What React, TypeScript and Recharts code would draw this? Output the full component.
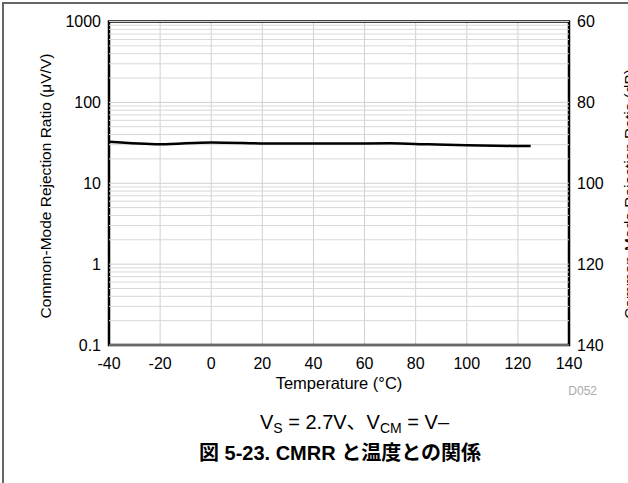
import {
  CartesianGrid,
  Line,
  LineChart,
  ReferenceArea,
  ReferenceLine,
  XAxis,
  YAxis,
} from "recharts";

const temps = [-40, -20, 0, 25, 50, 70, 85, 100, 125];
const cmrr = [32.5, 30.3, 32, 31, 31, 31.2, 30.3, 29.5, 28.8];

const xTicks = [-40, -20, 0, 20, 40, 60, 80, 100, 120, 140];
const yTicks = [0.1, 1, 10, 100, 1000];
const dbTicks = [60, 80, 100, 120, 140];
const decades = [0.1, 1, 10, 100];
const minorSteps = [2, 3, 4, 5, 6, 7, 8, 9];

// dB axis mirrors the µV/V axis: 1000 µV/V = 60 dB
const data = temps.map((t, i) => ({
  t,
  v: cmrr[i],
  db: 120 - 20 * Math.log10(cmrr[i]),
}));
const minorLines = decades.flatMap((d) => minorSteps.map((m) => d * m));

const FONT = '"Liberation Sans", Arial, "Noto Sans CJK JP", sans-serif';
const tickStyle = { fontSize: 16, fill: "#000", fontFamily: FONT };

export default function App() {
  return (
    <div
      style={{
        position: "absolute",
        left: 0,
        top: 0,
        width: 628,
        height: 483,
        background: "#fff",
        fontFamily: FONT,
        overflow: "hidden",
      }}
    >
      <div style={{ position: "absolute", left: 2, top: 2, width: 626, height: 2, background: "#666" }} />
      <div style={{ position: "absolute", left: 2, top: 2, width: 2, height: 481, background: "#666" }} />
      <div style={{ position: "absolute", left: 0, top: 0 }}>
        <LineChart
          width={628}
          height={400}
          data={data}
          margin={{ top: 21.5, right: 9, left: 49, bottom: 0 }}
        >
          <CartesianGrid
            yAxisId="left"
            vertical
            horizontal={false}
            stroke="#d0d0d0"
            strokeWidth={1}
          />
          {minorLines.map((v) => (
            <ReferenceLine
              key={v}
              y={v}
              yAxisId="left"
              stroke="#d8d8d8"
              strokeWidth={1}
            />
          ))}
          {yTicks.map((v) => (
            <ReferenceLine
              key={"d" + v}
              y={v}
              yAxisId="left"
              stroke="#d0d0d0"
              strokeWidth={1}
            />
          ))}
          <XAxis
            dataKey="t"
            type="number"
            domain={[-40, 140]}
            ticks={xTicks}
            height={55}
            tickLine={false}
            axisLine={false}
            tickMargin={7}
            tick={tickStyle}
            interval={0}
          />
          <YAxis
            yAxisId="left"
            scale="log"
            type="number"
            domain={[0.1, 1000]}
            ticks={yTicks}
            allowDataOverflow
            width={60}
            tickLine={false}
            axisLine={false}
            tick={tickStyle}
            tickMargin={2}
            interval={0}
            tickFormatter={(v) => String(v)}
          />
          <YAxis
            yAxisId="right"
            orientation="right"
            type="number"
            domain={[60, 140]}
            allowDataOverflow
            reversed
            ticks={dbTicks}
            width={50}
            tickLine={false}
            axisLine={false}
            tick={tickStyle}
            tickMargin={2}
            interval={0}
          />
          <Line
            yAxisId="right"
            dataKey="db"
            stroke="none"
            strokeWidth={0}
            dot={false}
            activeDot={false}
            isAnimationActive={false}
          />
          <Line
            yAxisId="left"
            dataKey="v"
            type="monotone"
            stroke="#000"
            strokeWidth={2.5}
            dot={false}
            isAnimationActive={false}
          />
          <ReferenceArea
            yAxisId="left"
            x1={-40}
            x2={140}
            y1={0.1}
            y2={1000}
            fill="none"
            stroke="#000"
            strokeWidth={2.5}
          />
        </LineChart>
      </div>
      <svg
        width={628}
        height={483}
        style={{ position: "absolute", left: 0, top: 0, pointerEvents: "none" }}
      >
        <text
          x={45}
          y={186}
          transform="rotate(-90 45 186)"
          textAnchor="middle"
          dominantBaseline="central"
          fontSize={15.5}
          fontFamily={FONT}
          fill="#000"
        >
          Common-Mode Rejection Ratio (μV/V)
        </text>
        <text
          x={629}
          y={194}
          transform="rotate(-90 629 194)"
          textAnchor="middle"
          dominantBaseline="central"
          fontSize={15.5}
          fontFamily={FONT}
          fill="#000"
        >
          Common-Mode Rejection Ratio (dB)
        </text>
        <text
          x={339}
          y={389}
          textAnchor="middle"
          fontSize={16.5}
          fontFamily={FONT}
          fill="#000"
        >
          Temperature (°C)
        </text>
        <text
          x={597}
          y={395}
          textAnchor="end"
          fontSize={12}
          fontFamily={FONT}
          fill="#aaa"
        >
          D052
        </text>
      </svg>
      <div
        style={{
          position: "absolute",
          left: 260,
          top: 411,
          whiteSpace: "nowrap",
          fontSize: 20,
          lineHeight: "22px",
        }}
      >
        V<sub style={{ fontSize: 14, verticalAlign: "-4px" }}>S</sub> = 2.7V、V
        <sub style={{ fontSize: 14, verticalAlign: "-4px" }}>CM</sub> = V–
      </div>
      <div
        style={{
          position: "absolute",
          left: 0,
          top: 441,
          width: 680,
          textAlign: "center",
          fontSize: 20,
          lineHeight: "24px",
          fontWeight: "bold",
        }}
      >
        図 5-23. CMRR と温度との関係
      </div>
    </div>
  );
}
